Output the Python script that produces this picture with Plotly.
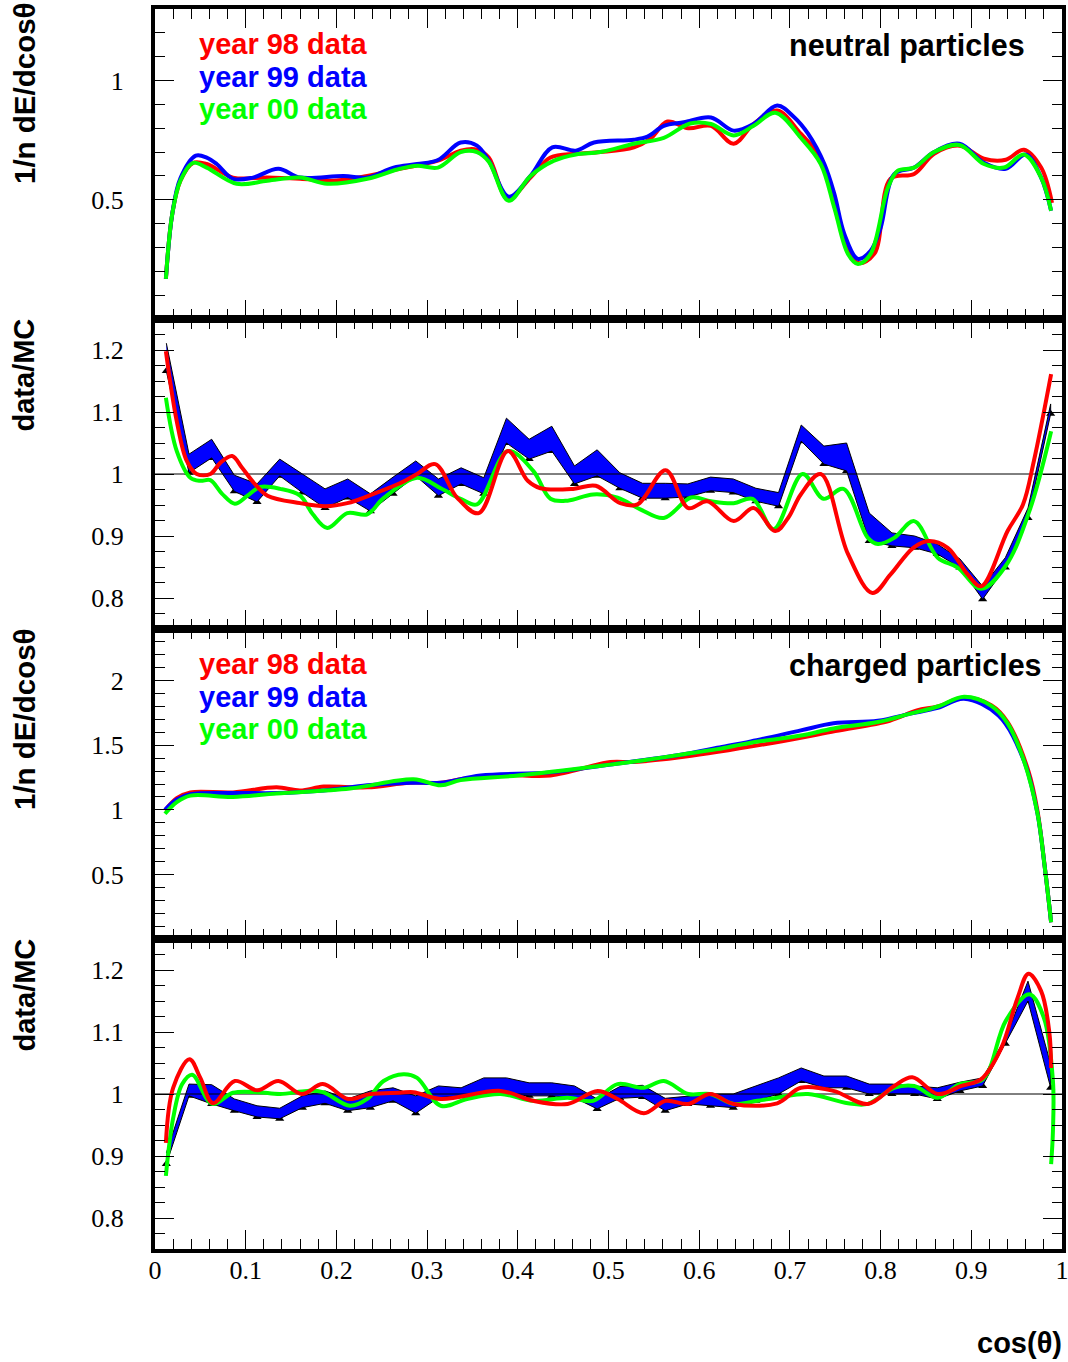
import plotly.graph_objects as go

# ---------------- data ----------------
# Panel 1: neutral particles, 1/n dE/dcos(theta)
n98_x = [0.012, 0.019, 0.028, 0.042, 0.057, 0.086, 0.124, 0.16, 0.197, 0.234, 0.27, 0.312, 0.337, 0.355, 0.368,
         0.389, 0.414, 0.436, 0.464, 0.491, 0.528, 0.546, 0.565, 0.588, 0.613, 0.638, 0.66, 0.686, 0.712, 0.734,
         0.753, 0.775, 0.793, 0.811, 0.837, 0.859, 0.887, 0.914, 0.938, 0.958, 0.977, 0.989]
n98_y = [0.168, 0.44, 0.58, 0.655, 0.65, 0.593, 0.593, 0.588, 0.58, 0.6, 0.63, 0.664, 0.706, 0.71, 0.677,
         0.504, 0.593, 0.677, 0.693, 0.70, 0.72, 0.755, 0.828, 0.80, 0.81, 0.735, 0.818, 0.874, 0.777, 0.677,
         0.424, 0.235, 0.273, 0.588, 0.608, 0.693, 0.727, 0.672, 0.668, 0.71, 0.635, 0.487]
n99_x = [0.012, 0.019, 0.028, 0.045, 0.057, 0.068, 0.086, 0.108, 0.136, 0.16, 0.208, 0.234, 0.263, 0.289, 0.312,
         0.337, 0.355, 0.368, 0.39, 0.414, 0.438, 0.464, 0.484, 0.528, 0.543, 0.561, 0.583, 0.613, 0.638, 0.66,
         0.686, 0.705, 0.72, 0.738, 0.749, 0.76, 0.775, 0.789, 0.80, 0.815, 0.837, 0.859, 0.887, 0.914, 0.938,
         0.96, 0.977, 0.988]
n99_y = [0.168, 0.44, 0.59, 0.685, 0.677, 0.65, 0.588, 0.593, 0.63, 0.593, 0.60, 0.593, 0.635, 0.65, 0.667,
         0.74, 0.727, 0.664, 0.513, 0.60, 0.72, 0.706, 0.74, 0.752, 0.765, 0.81, 0.825, 0.845, 0.79, 0.818,
         0.895, 0.845, 0.777, 0.65, 0.525, 0.357, 0.252, 0.286, 0.382, 0.608, 0.635, 0.70, 0.735, 0.655, 0.63,
         0.69, 0.593, 0.454]
n00_x = [0.012, 0.019, 0.028, 0.042, 0.057, 0.09, 0.124, 0.16, 0.19, 0.234, 0.27, 0.289, 0.312, 0.337, 0.355,
         0.368, 0.39, 0.414, 0.44, 0.464, 0.491, 0.528, 0.561, 0.59, 0.613, 0.638, 0.66, 0.684, 0.712, 0.734,
         0.749, 0.764, 0.775, 0.789, 0.808, 0.819, 0.837, 0.859, 0.887, 0.914, 0.936, 0.958, 0.977, 0.988]
n00_y = [0.168, 0.44, 0.58, 0.655, 0.635, 0.567, 0.58, 0.593, 0.567, 0.588, 0.63, 0.643, 0.635, 0.70, 0.70,
         0.66, 0.496, 0.60, 0.664, 0.69, 0.70, 0.735, 0.76, 0.82, 0.818, 0.77, 0.81, 0.865, 0.76, 0.65,
         0.466, 0.273, 0.231, 0.273, 0.55, 0.622, 0.635, 0.70, 0.73, 0.65, 0.635, 0.69, 0.593, 0.454]

# Band nodes (bin centres) for data/MC panels
band_x = [0.0125 + 0.025 * i for i in range(40)]

# Panel 2: neutral data/MC
nband_hi = [1.211, 1.032, 1.056, 0.998, 0.984, 1.024, 1.0, 0.976, 0.992, 0.968, 0.995, 1.021, 0.992, 1.01,
            0.994, 1.09, 1.056, 1.077, 1.013, 1.039, 1.002, 0.985, 0.985, 0.984, 0.995, 0.992, 0.977, 0.97,
            1.079, 1.045, 1.05, 0.937, 0.905, 0.9, 0.887, 0.863, 0.819, 0.865, 0.945, 1.113]
nband_lo = [1.166, 1.002, 1.026, 0.972, 0.955, 0.997, 0.97, 0.945, 0.962, 0.94, 0.968, 0.997, 0.965, 0.984,
            0.968, 1.05, 1.024, 1.037, 0.984, 0.997, 0.977, 0.961, 0.961, 0.963, 0.973, 0.97, 0.956, 0.948,
            1.053, 1.016, 1.005, 0.892, 0.884, 0.881, 0.871, 0.849, 0.798, 0.849, 0.929, 1.097]
nr98_x = [0.012, 0.024, 0.035, 0.046, 0.061, 0.072, 0.085, 0.096, 0.110, 0.124, 0.160, 0.188, 0.212, 0.241,
          0.270, 0.289, 0.309, 0.333, 0.357, 0.389, 0.411, 0.425, 0.461, 0.486, 0.513, 0.532, 0.563, 0.588,
          0.609, 0.638, 0.660, 0.684, 0.698, 0.712, 0.734, 0.764, 0.791, 0.811, 0.836, 0.853, 0.874, 0.896,
          0.911, 0.940, 0.957, 0.969, 0.988]
nr98_y = [1.198, 1.085, 1.021, 1.0, 1.0, 1.018, 1.029, 1.01, 0.984, 0.965, 0.953, 0.948, 0.953, 0.968,
          0.985, 1.0, 1.016, 0.962, 0.937, 1.037, 0.989, 0.977, 0.976, 0.981, 0.953, 0.951, 1.006, 0.945,
          0.956, 0.924, 0.945, 0.908, 0.929, 0.967, 1.0, 0.871, 0.808, 0.838, 0.881, 0.892, 0.881, 0.838,
          0.819, 0.908, 0.951, 1.021, 1.161]
nr00_x = [0.012, 0.024, 0.039, 0.050, 0.061, 0.074, 0.088, 0.102, 0.116, 0.138, 0.160, 0.174, 0.190, 0.212,
          0.234, 0.252, 0.289, 0.315, 0.337, 0.355, 0.389, 0.417, 0.436, 0.455, 0.483, 0.510, 0.535, 0.561,
          0.591, 0.613, 0.638, 0.659, 0.682, 0.714, 0.737, 0.759, 0.786, 0.797, 0.815, 0.837, 0.863, 0.885,
          0.911, 0.938, 0.964, 0.988]
nr00_y = [1.123, 1.037, 0.994, 0.989, 0.99, 0.968, 0.952, 0.965, 0.979, 0.976, 0.965, 0.935, 0.913, 0.937,
          0.935, 0.961, 0.994, 0.977, 0.96, 0.951, 1.037, 1.005, 0.96, 0.957, 0.967, 0.962, 0.943, 0.929,
          0.962, 0.956, 0.953, 0.96, 0.911, 1.0, 0.96, 0.976, 0.897, 0.887, 0.897, 0.924, 0.865, 0.849,
          0.815, 0.852, 0.94, 1.069]

# Panel 3: charged particles, 1/n dE/dcos(theta)
c98_x = [0.011, 0.024, 0.039, 0.086, 0.134, 0.16, 0.186, 0.234, 0.281, 0.315, 0.34, 0.384, 0.436, 0.502, 0.527,
         0.583, 0.682, 0.75, 0.81, 0.84, 0.863, 0.892, 0.922, 0.94, 0.963, 0.973, 0.981, 0.988]
c98_y = [0.995, 1.09, 1.135, 1.135, 1.174, 1.15, 1.18, 1.174, 1.21, 1.21, 1.24, 1.27, 1.266, 1.37, 1.37,
         1.41, 1.52, 1.61, 1.69, 1.77, 1.80, 1.87, 1.81, 1.68, 1.30, 0.99, 0.56, 0.13]
c99_x = [0.011, 0.024, 0.039, 0.086, 0.134, 0.186, 0.234, 0.281, 0.315, 0.359, 0.436, 0.502, 0.583, 0.62, 0.657,
         0.712, 0.748, 0.797, 0.833, 0.863, 0.892, 0.93, 0.958, 0.973, 0.981, 0.988]
c99_y = [1.0, 1.08, 1.12, 1.13, 1.13, 1.15, 1.19, 1.21, 1.21, 1.266, 1.29, 1.35, 1.43, 1.48, 1.53,
         1.615, 1.67, 1.69, 1.745, 1.79, 1.86, 1.73, 1.38, 0.97, 0.555, 0.13]
c00_x = [0.011, 0.024, 0.039, 0.086, 0.134, 0.215, 0.285, 0.315, 0.337, 0.4, 0.502, 0.535, 0.583, 0.62, 0.657,
         0.712, 0.748, 0.797, 0.833, 0.863, 0.892, 0.922, 0.94, 0.958, 0.973, 0.981, 0.988]
c00_y = [0.97, 1.06, 1.11, 1.10, 1.127, 1.165, 1.237, 1.19, 1.23, 1.266, 1.35, 1.38, 1.43, 1.47, 1.52,
         1.575, 1.63, 1.68, 1.745, 1.80, 1.875, 1.805, 1.67, 1.38, 0.97, 0.555, 0.13]

# Panel 4: charged data/MC
cband_hi = [0.905, 1.016, 1.015, 0.992, 0.981, 0.977, 0.997, 1.005, 0.992, 1.005, 1.01, 0.997, 1.013, 1.01,
            1.026, 1.026, 1.018, 1.018, 1.013, 0.992, 1.012, 1.014, 0.993, 0.997, 1.0, 1.0, 1.013, 1.026,
            1.042, 1.029, 1.029, 1.016, 1.016, 1.013, 1.01, 1.019, 1.026, 1.09, 1.182, 1.048]
cband_lo = [0.887, 0.997, 0.984, 0.973, 0.963, 0.96, 0.978, 0.985, 0.973, 0.978, 0.989, 0.969, 0.994, 0.997,
            1.0, 1.0, 0.997, 0.997, 0.994, 0.976, 0.993, 0.995, 0.973, 0.984, 0.981, 0.978, 0.989, 1.0,
            1.021, 1.01, 1.01, 1.0, 1.0, 1.0, 0.992, 1.005, 1.013, 1.081, 1.15, 1.01]
cr98_x = [0.012, 0.020, 0.038, 0.050, 0.064, 0.088, 0.113, 0.136, 0.162, 0.185, 0.213, 0.237, 0.270, 0.285,
          0.315, 0.381, 0.417, 0.455, 0.488, 0.510, 0.539, 0.563, 0.588, 0.612, 0.638, 0.686, 0.712, 0.748,
          0.786, 0.815, 0.835, 0.863, 0.889, 0.911, 0.933, 0.951, 0.963, 0.977, 0.986, 0.988]
cr98_y = [0.921, 1.01, 1.056, 1.026, 0.985, 1.021, 1.006, 1.021, 1.0, 1.016, 0.992, 1.0, 1.002, 1.003,
          0.992, 1.005, 0.989, 0.984, 1.005, 0.992, 0.969, 0.989, 0.984, 1.0, 0.984, 0.985, 1.01, 1.005,
          0.984, 1.013, 1.027, 1.0, 1.013, 1.024, 1.074, 1.155, 1.194, 1.166, 1.1, 1.042]
cr00_x = [0.012, 0.020, 0.030, 0.041, 0.063, 0.086, 0.113, 0.138, 0.168, 0.185, 0.215, 0.234, 0.252, 0.274,
          0.289, 0.315, 0.344, 0.381, 0.417, 0.455, 0.483, 0.510, 0.539, 0.561, 0.588, 0.612, 0.638, 0.664,
          0.686, 0.720, 0.764, 0.786, 0.815, 0.837, 0.863, 0.887, 0.913, 0.938, 0.964, 0.980, 0.990, 0.990,
          0.988]
cr00_y = [0.868, 0.961, 1.016, 1.031, 0.984, 1.002, 1.003, 1.0, 1.005, 1.003, 0.981, 0.992, 1.021, 1.032,
          1.026, 0.981, 0.992, 1.0, 0.989, 0.994, 0.989, 1.016, 1.01, 1.021, 1.0, 1.0, 0.984, 0.989,
          0.994, 1.0, 0.985, 0.984, 1.01, 1.013, 0.994, 1.016, 1.024, 1.118, 1.161, 1.123, 1.021, 0.94,
          0.887]

unit_x = [0.0, 1.0]
unit_y = [1.0, 1.0]

x_ticks = [0, 0.1, 0.2, 0.3, 0.4, 0.5, 0.6, 0.7, 0.8, 0.9, 1]
x_ticktext = ["0", "0.1", "0.2", "0.3", "0.4", "0.5", "0.6", "0.7", "0.8", "0.9", "1"]
y1_ticks = [0.5, 1.0]
y1_text = ["0.5", "1"]
yr_ticks = [0.8, 0.9, 1.0, 1.1, 1.2]
yr_text = ["0.8", "0.9", "1", "1.1", "1.2"]
y3_ticks = [0.5, 1.0, 1.5, 2.0]
y3_text = ["0.5", "1", "1.5", "2"]

RED, BLUE, GREEN = "#ff0000", "#0000ff", "#00ff00"

# ---------------- figure ----------------
W, H = 1068, 1362
ML, MR, MT, MB = 155, 6, 9, 113
PW, PH = W - ML - MR, H - MT - MB


def P(px, py):
    return (px - ML) / PW, (H - MB - py) / PH


fig = go.Figure()


def line(x, y, color, k):
    fig.add_trace(go.Scatter(x=x, y=y, mode="lines", xaxis=f"x{k}", yaxis=f"y{k}",
                             line=dict(color=color, width=4, shape="spline", smoothing=1.0),
                             showlegend=False, hoverinfo="skip"))


def band(hi, lo, k):
    fig.add_trace(go.Scatter(x=band_x, y=lo, mode="markers", xaxis=f"x{k}", yaxis=f"y{k}",
                             marker=dict(symbol="triangle-up", size=8, color="black"),
                             showlegend=False, hoverinfo="skip"))
    fig.add_trace(go.Scatter(x=band_x + band_x[::-1], y=hi + lo[::-1], mode="lines", fill="toself",
                             xaxis=f"x{k}", yaxis=f"y{k}", fillcolor=BLUE,
                             line=dict(color="black", width=1), showlegend=False, hoverinfo="skip"))
    fig.add_trace(go.Scatter(x=unit_x, y=unit_y, mode="lines", xaxis=f"x{k}", yaxis=f"y{k}",
                             line=dict(color="black", width=1), showlegend=False, hoverinfo="skip"))


# panel 1
line(n98_x, n98_y, RED, 1)
line(n99_x, n99_y, BLUE, 1)
line(n00_x, n00_y, GREEN, 1)
# panel 2
band(nband_hi, nband_lo, 2)
line(nr00_x, nr00_y, GREEN, 2)
line(nr98_x, nr98_y, RED, 2)
# panel 3
line(c98_x, c98_y, RED, 3)
line(c99_x, c99_y, BLUE, 3)
line(c00_x, c00_y, GREEN, 3)
# panel 4
band(cband_hi, cband_lo, 4)
line(cr00_x, cr00_y, GREEN, 4)
line(cr98_x, cr98_y, RED, 4)

tickfont = dict(family="Liberation Serif", size=26, color="black")
common = dict(showline=True, linewidth=4, linecolor="black", mirror="allticks", ticks="inside",
              tickwidth=1, tickcolor="black", showgrid=False, zeroline=False, tickfont=tickfont,
              automargin=False, ticklabeloverflow="allow")

domains = [[0.75, 1.0], [0.5, 0.75], [0.25, 0.5], [0.0, 0.25]]
yranges = [[0, 1.3], [0.75, 1.25], [0, 2.4], [0.75, 1.25]]
yticks = [(y1_ticks, y1_text, 0.1), (yr_ticks, yr_text, 0.025), (y3_ticks, y3_text, 0.1), (yr_ticks, yr_text, 0.025)]

layout = {}
for i in range(4):
    k = i + 1
    sfx = "" if k == 1 else str(k)
    layout["xaxis" + sfx] = dict(common, range=[0, 1], anchor="y" + sfx, domain=[0, 1],
                                 tickmode="array", tickvals=x_ticks, ticktext=x_ticktext, ticklen=19,
                                 showticklabels=(k == 4), ticklabelstandoff=-5,
                                 minor=dict(ticks="inside", ticklen=10, tickmode="linear", tick0=0, dtick=0.02,
                                            tickcolor="black", tickwidth=1, showgrid=False))
    tv, tt, md = yticks[i]
    layout["yaxis" + sfx] = dict(common, range=yranges[i], anchor="x" + sfx, domain=domains[i],
                                 tickmode="array", tickvals=tv, ticktext=tt, ticklen=19, ticklabelstandoff=22,
                                 minor=dict(ticks="inside", ticklen=10, tickmode="linear", tick0=0, dtick=md,
                                            tickcolor="black", tickwidth=1, showgrid=False))

fig.update_layout(width=W, height=H, margin=dict(l=ML, r=MR, t=MT, b=MB, autoexpand=False),
                  paper_bgcolor="white", plot_bgcolor="white", showlegend=False, **layout)

annots = []


def txt(s, px, py, color="black", xanchor="left", yanchor="middle", angle=0, size=30.5):
    x, y = P(px, py)
    annots.append(dict(text=f"<b>{s}</b>", x=x, y=y, xref="paper", yref="paper", showarrow=False,
                       xanchor=xanchor, yanchor=yanchor, textangle=angle, borderpad=0,
                       font=dict(family="Liberation Sans", size=size, color=color)))


for base in (0, 620):
    txt("year 98 data", 198, 44 + base, RED, size=29)
    txt("year 99 data", 198, 76.5 + base, BLUE, size=29)
    txt("year 00 data", 198, 109 + base, GREEN, size=29)
txt("neutral particles", 1026, 45, xanchor="right")
txt("charged particles", 1043, 665, xanchor="right")
txt("cos(θ)", 1063, 1343, xanchor="right", size=29)
txt("1/n dE/dcosθ", 24, 1, xanchor="center", yanchor="top", angle=-90, size=29.5)
txt("data/MC", 24, 318, xanchor="center", yanchor="top", angle=-90, size=29)
txt("1/n dE/dcosθ", 24, 627, xanchor="center", yanchor="top", angle=-90, size=29.5)
txt("data/MC", 24, 938, xanchor="center", yanchor="top", angle=-90, size=29)
fig.update_layout(annotations=annots)

fig.write_html("out.html")
